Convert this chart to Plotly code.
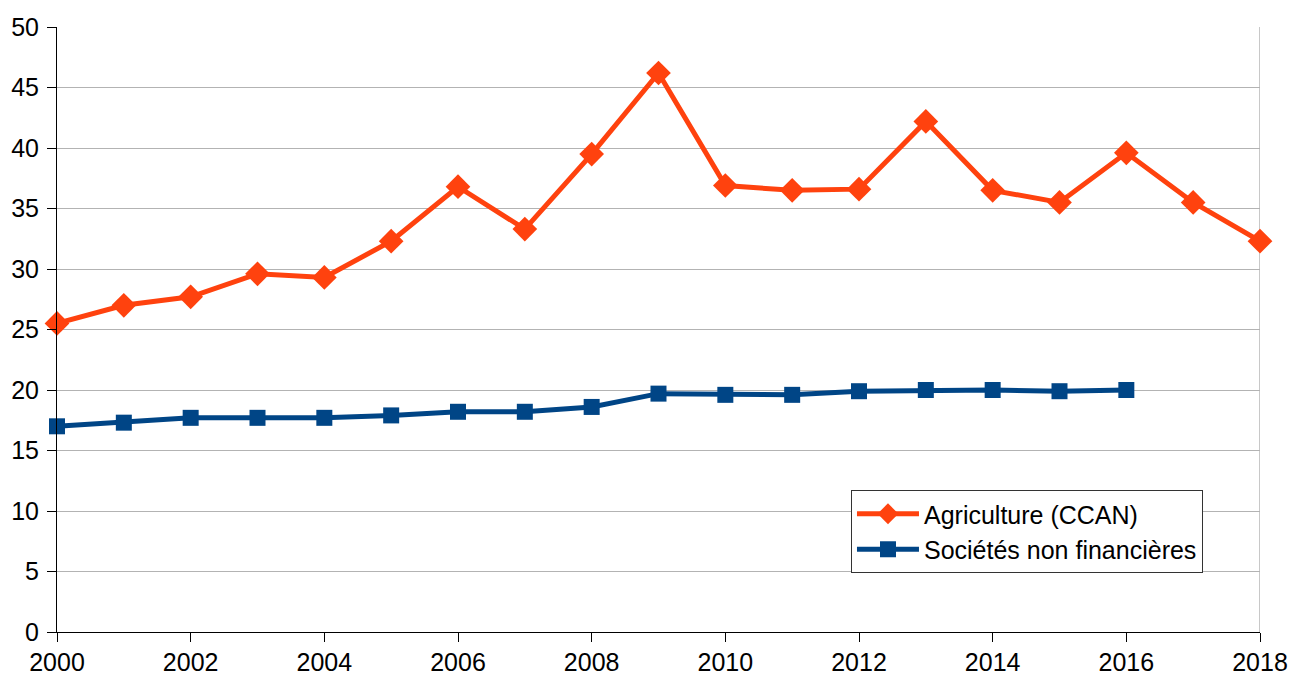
import plotly.graph_objects as go

years = list(range(2000, 2019))
agriculture = [25.5, 27.0, 27.7, 29.6, 29.3, 32.3, 36.8, 33.3, 39.5, 46.2,
               36.9, 36.5, 36.6, 42.2, 36.5, 35.5, 39.6, 35.5, 32.3]
years_snf = list(range(2000, 2017))
societes = [17.0, 17.3, 17.7, 17.7, 17.7, 17.9, 18.2, 18.2, 18.6, 19.7,
            19.6, 19.6, 19.9, 20.0, 20.0, 19.9, 20.0]

x_ticks = list(range(2000, 2019, 2))
y_ticks = list(range(0, 51, 5))

fig = go.Figure()
fig.add_trace(go.Scatter(
    x=years, y=agriculture, name="Agriculture (CCAN)", mode="lines+markers",
    line=dict(color="#FF420E", width=5),
    marker=dict(symbol="diamond", size=19, color="#FF420E"),
    cliponaxis=False,
))
fig.add_trace(go.Scatter(
    x=years_snf, y=societes, name="Sociétés non financières", mode="lines+markers",
    line=dict(color="#004586", width=5),
    marker=dict(symbol="square", size=16, color="#004586"),
    cliponaxis=False,
))

fig.add_shape(type="line", xref="x", yref="paper", x0=2018, x1=2018, y0=0, y1=1,
              line=dict(color="#c8c8c8", width=2), layer="below")

fig.update_layout(
    width=1291, height=675,
    margin=dict(l=57, r=31, t=27, b=43, autoexpand=False),
    paper_bgcolor="white", plot_bgcolor="white",
    font=dict(family="Liberation Sans, Arial, sans-serif", size=25, color="#000000"),
    showlegend=True,
    legend=dict(
        x=0.66, y=0.2347, xanchor="left", yanchor="top",
        bgcolor="white", bordercolor="#333333", borderwidth=1,
        font=dict(size=25), itemwidth=62, tracegroupgap=0,
    ),
)
fig.update_xaxes(
    range=[2000, 2018], tickvals=x_ticks, ticktext=[str(v) for v in x_ticks],
    showgrid=False, zeroline=False, showline=True, linecolor="#000000", linewidth=1,
    ticks="outside", ticklen=9, tickcolor="#000000", automargin=False,
    ticklabelstandoff=-1,
)
fig.update_yaxes(
    range=[0, 50], tickvals=y_ticks, ticktext=[str(v) for v in y_ticks],
    showgrid=True, gridcolor="#b3b3b3", gridwidth=1, zeroline=False,
    showline=True, linecolor="#000000", linewidth=1,
    ticks="outside", ticklen=9, tickcolor="#000000", automargin=False,
    ticklabelstandoff=3,
)

fig.write_html(
    "out.html",
    config={"displayModeBar": False},
    post_script="document.body.style.margin='0';document.body.style.overflow='hidden';",
)
